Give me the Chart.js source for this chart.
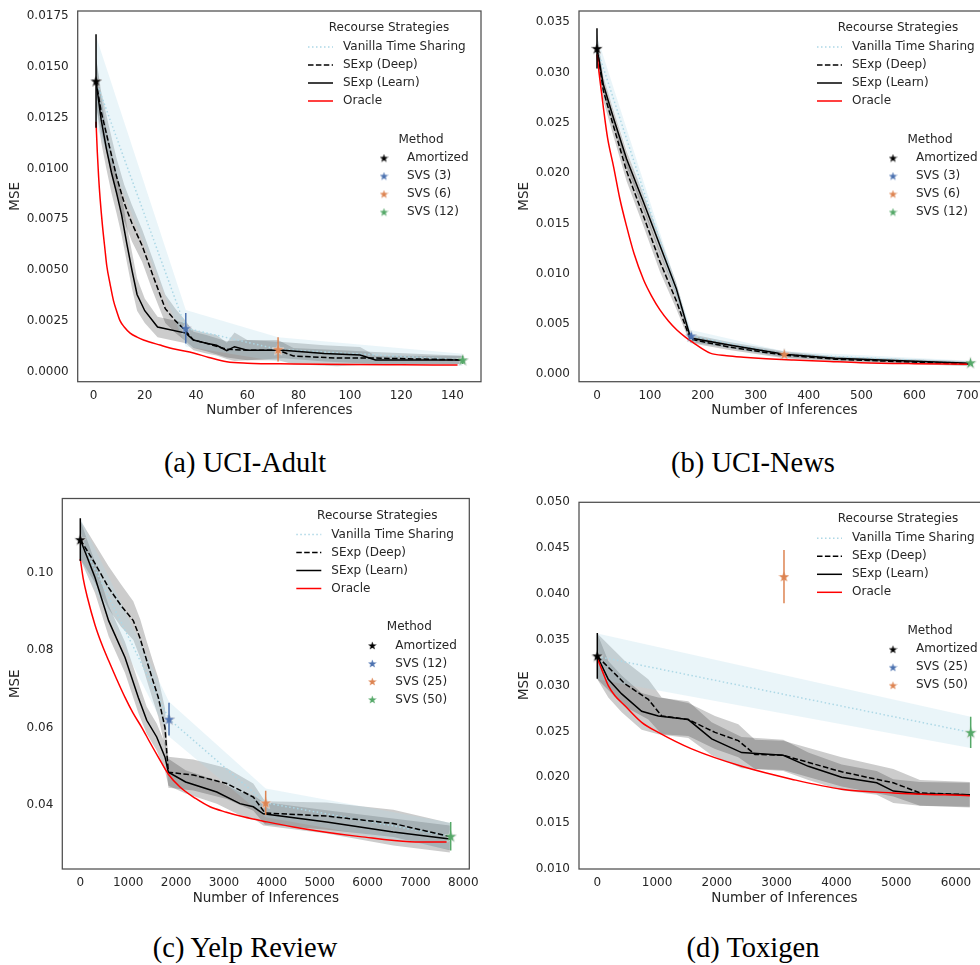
<!DOCTYPE html>
<html><head><meta charset="utf-8">
<script src="https://cdn.jsdelivr.net/npm/chart.js@4.4.1/dist/chart.umd.min.js"></script>
<style>
html,body{margin:0;padding:0;background:#fff;overflow:hidden;width:980px;height:965px;}
canvas{position:absolute;}
.cap{position:absolute;font-family:"Liberation Serif",serif;font-size:28.5px;color:#000;transform:translate(-50%,-50%);white-space:nowrap;}
</style></head><body>
<canvas id="cA" width="490" height="419" style="left:0px;top:0px"></canvas>
<canvas id="cB" width="500" height="419" style="left:500px;top:0px"></canvas>
<canvas id="cC" width="480" height="417" style="left:0px;top:490px"></canvas>
<canvas id="cD" width="500" height="417" style="left:500px;top:490px"></canvas>
<div class="cap" style="left:245px;top:463px">(a) UCI-Adult</div>
<div class="cap" style="left:753px;top:463px">(b) UCI-News</div>
<div class="cap" style="left:245px;top:948px">(c) Yelp Review</div>
<div class="cap" style="left:753px;top:948px">(d) Toxigen</div>
<script>
// ---------------- DATA ----------------
const STRAT_LABELS = ['Vanilla Time Sharing', 'SExp (Deep)', 'SExp (Learn)', 'Oracle'];
const STRAT_TITLE = 'Recourse Strategies';
const METHOD_TITLE = 'Method';
const X_TITLE = 'Number of Inferences';
const Y_TITLE = 'MSE';

// (a) UCI-Adult
const A_xTicks = [0, 20, 40, 60, 80, 100, 120, 140];
const A_yTicks = [0, 0.0025, 0.005, 0.0075, 0.01, 0.0125, 0.015, 0.0175];
const A_vanX = [1, 36, 72, 144];
const A_vanY = [0.0143, 0.00214, 0.0011, 0.00058];
const A_vanCI = [0.0022, 0.0009, 0.0006, 0.0003];
const A_deepX = [1, 3, 6, 9, 12, 15, 19, 23, 28, 32, 36, 39, 44, 52, 60, 72, 78, 95, 110, 144];
const A_deepY = [0.0143, 0.0128, 0.0112, 0.0096, 0.0083, 0.0073, 0.0062, 0.0048, 0.0031, 0.0025, 0.0020, 0.00156, 0.0014, 0.0011, 0.00106, 0.00106, 0.00077, 0.00067, 0.00067, 0.00058];
const A_deepCI = [0.0012, 0.0010, 0.0009, 0.0009, 0.0009, 0.0009, 0.0008, 0.0008, 0.0007, 0.0006, 0.0005, 0.0004, 0.0004, 0.0004, 0.0005, 0.0005, 0.0004, 0.0004, 0.0003, 0.0002];
const A_learnX = [1, 3, 5, 7, 9, 11, 13, 15, 17, 20, 25, 36, 39, 44, 48, 52, 55, 60, 74, 90, 104, 110, 125, 144];
const A_learnY = [0.0143, 0.0124, 0.0110, 0.0098, 0.0088, 0.0077, 0.0063, 0.0050, 0.0038, 0.0030, 0.0022, 0.0019, 0.00156, 0.0014, 0.0013, 0.00103, 0.00123, 0.00106, 0.00106, 0.0009, 0.00082, 0.00058, 0.00058, 0.00058];
const A_learnCI = [0.0012, 0.0011, 0.0010, 0.0010, 0.0010, 0.0010, 0.0009, 0.0009, 0.0008, 0.0006, 0.0005, 0.0005, 0.0005, 0.0005, 0.0005, 0.0004, 0.0007, 0.0005, 0.0004, 0.0004, 0.0004, 0.0002, 0.0002, 0.0002];
const A_oraX = [1, 1.5, 2, 2.6, 3.5, 4.5, 5.2, 6.5, 7.8, 9, 10.4, 12, 14.3, 17, 19.5, 26, 32, 39, 45, 52, 60, 78, 100, 120, 142];
const A_oraY = [0.0123, 0.0108, 0.0096, 0.0085, 0.0072, 0.0060, 0.0052, 0.0043, 0.0035, 0.0030, 0.0025, 0.0022, 0.0019, 0.0017, 0.00156, 0.00131, 0.0011, 0.00092, 0.0007, 0.00049, 0.00042, 0.00038, 0.00035, 0.00034, 0.00033];
const A_methods = ['Amortized', 'SVS (3)', 'SVS (6)', 'SVS (12)'];
const A_starX = [1, 36, 72, 144];
const A_starY = [0.0143, 0.00214, 0.0011, 0.00058];
const A_starErr = [0.0023, 0.00075, 0.0006, 0.0002];
const A_starColor = [0, 1, 2, 3];

// (b) UCI-News
const B_xTicks = [0, 100, 200, 300, 400, 500, 600, 700];
const B_yTicks = [0, 0.005, 0.01, 0.015, 0.02, 0.025, 0.03, 0.035];
const B_vanX = [0, 178, 354, 706];
const B_vanY = [0.0324, 0.0038, 0.0020, 0.00115];
const B_vanCI = [0.0012, 0.0006, 0.0003, 0.0002];
const B_deepX = [0, 12, 31, 56, 88, 119, 150, 176, 250, 354, 450, 550, 706];
const B_deepY = [0.0324, 0.0282, 0.0247, 0.0202, 0.0157, 0.0112, 0.0073, 0.0035, 0.0027, 0.0019, 0.0015, 0.0013, 0.0010];
const B_deepCI = [0.0015, 0.0010, 0.0010, 0.0010, 0.0010, 0.0010, 0.0008, 0.0004, 0.0003, 0.0003, 0.0002, 0.0002, 0.0002];
const B_learnX = [0, 12, 31, 56, 88, 119, 150, 177, 250, 354, 450, 550, 706];
const B_learnY = [0.0324, 0.0288, 0.0255, 0.0214, 0.0171, 0.0128, 0.0085, 0.0036, 0.0029, 0.0020, 0.0016, 0.0014, 0.0011];
const B_learnCI = [0.0015, 0.0008, 0.0008, 0.0008, 0.0008, 0.0008, 0.0006, 0.0004, 0.0003, 0.0003, 0.0002, 0.0002, 0.0002];
const B_oraX = [0, 5, 12.6, 20, 31.5, 43, 56, 70, 88, 103, 119, 135, 151, 167, 183, 200, 214, 245, 277, 320, 372, 430, 498, 600, 700];
const B_oraY = [0.0318, 0.0295, 0.0263, 0.0235, 0.0206, 0.0175, 0.0147, 0.0120, 0.0094, 0.0078, 0.0064, 0.0053, 0.0044, 0.0037, 0.0031, 0.0025, 0.0021, 0.00185, 0.0017, 0.00155, 0.00142, 0.0013, 0.00115, 0.00105, 0.0010];
const B_methods = ['Amortized', 'SVS (3)', 'SVS (6)', 'SVS (12)'];
const B_starX = [0, 178, 354, 706];
const B_starY = [0.0324, 0.0038, 0.0020, 0.00115];
const B_starErr = [0.002, 0.0003, 0.0002, 0.00012];
const B_starColor = [0, 1, 2, 3];

// (c) Yelp Review
const C_xTicks = [0, 1000, 2000, 3000, 4000, 5000, 6000, 7000, 8000];
const C_yTicks = [0.04, 0.06, 0.08, 0.10];
const C_vanX = [0, 1853, 3872, 7736];
const C_vanY = [0.1085, 0.0622, 0.0406, 0.0320];
const C_vanCI = [0.0055, 0.0045, 0.0037, 0.0035];
const C_deepX = [0, 300, 591, 850, 1107, 1250, 1387, 1520, 1629, 1769, 1810, 1840, 2360, 3057, 3614, 3857, 5145, 6537, 7720];
const C_deepY = [0.1085, 0.1025, 0.0961, 0.0915, 0.0876, 0.0830, 0.0773, 0.0720, 0.0678, 0.0600, 0.0530, 0.0485, 0.0478, 0.0456, 0.0421, 0.0380, 0.0372, 0.0353, 0.0319];
const C_deepCI = [0.005, 0.005, 0.0055, 0.0055, 0.005, 0.005, 0.005, 0.005, 0.005, 0.005, 0.0045, 0.004, 0.004, 0.004, 0.0035, 0.003, 0.0035, 0.0035, 0.0035];
const C_learnX = [0, 307, 591, 934, 1212, 1387, 1596, 1769, 1840, 2200, 2850, 3335, 3614, 3822, 5145, 6537, 7720];
const C_learnY = [0.1085, 0.0987, 0.0876, 0.0781, 0.0678, 0.0619, 0.0576, 0.0524, 0.0485, 0.0460, 0.0434, 0.0404, 0.0396, 0.0378, 0.0357, 0.0331, 0.0313];
const C_learnCI = [0.005, 0.004, 0.004, 0.004, 0.004, 0.0035, 0.0035, 0.0035, 0.0035, 0.003, 0.003, 0.003, 0.003, 0.003, 0.003, 0.0035, 0.0035];
const C_oraX = [0, 60, 150, 307, 450, 591, 760, 934, 1100, 1282, 1450, 1629, 1840, 2082, 2400, 2709, 3050, 3405, 3900, 4450, 5100, 5842, 6886, 7650];
const C_oraY = [0.1035, 0.0985, 0.0935, 0.0865, 0.0815, 0.0773, 0.0725, 0.0678, 0.0638, 0.0601, 0.0563, 0.0524, 0.0480, 0.0447, 0.0418, 0.0396, 0.0382, 0.0370, 0.0357, 0.0344, 0.0331, 0.0319, 0.0306, 0.0305];
const C_methods = ['Amortized', 'SVS (12)', 'SVS (25)', 'SVS (50)'];
const C_starX = [0, 1853, 3872, 7736];
const C_starY = [0.1085, 0.0622, 0.0406, 0.0320];
const C_starErr = [0.0055, 0.0042, 0.0031, 0.0037];
const C_starColor = [0, 1, 2, 3];

// (d) Toxigen
const D_xTicks = [0, 1000, 2000, 3000, 4000, 5000, 6000];
const D_yTicks = [0.01, 0.015, 0.02, 0.025, 0.03, 0.035, 0.04, 0.045, 0.05];
const D_vanX = [0, 6246];
const D_vanY = [0.0332, 0.0249];
const D_vanCI = [0.0025, 0.0017];
const D_deepX = [0, 463, 853, 1077, 1522, 1969, 2359, 2638, 3111, 4088, 4952, 5398, 6233];
const D_deepY = [0.0332, 0.0302, 0.0285, 0.0267, 0.0263, 0.0249, 0.0240, 0.0225, 0.0224, 0.0206, 0.0194, 0.0183, 0.0181];
const D_deepCI = [0.0025, 0.0025, 0.0022, 0.002, 0.0018, 0.0018, 0.0018, 0.0016, 0.0016, 0.0016, 0.0015, 0.0014, 0.0014];
const D_learnX = [0, 184, 408, 742, 1020, 1522, 1913, 2415, 3111, 3530, 4088, 4674, 4952, 5398, 6233];
const D_learnY = [0.0332, 0.0307, 0.0291, 0.0272, 0.0267, 0.0263, 0.0242, 0.0227, 0.0224, 0.0212, 0.0200, 0.0194, 0.0185, 0.0182, 0.0181];
const D_learnCI = [0.0025, 0.002, 0.002, 0.002, 0.002, 0.002, 0.0018, 0.0017, 0.0017, 0.0015, 0.0014, 0.0013, 0.0013, 0.0013, 0.0013];
const D_oraX = [0, 90, 184, 296, 463, 742, 1020, 1578, 2415, 3250, 4088, 4952, 6233];
const D_oraY = [0.0330, 0.0315, 0.0300, 0.0289, 0.0278, 0.0260, 0.0249, 0.0231, 0.0212, 0.0198, 0.0187, 0.0183, 0.0180];
const D_methods = ['Amortized', 'SVS (25)', 'SVS (50)'];
const D_starX = [0, 3123, 6246];
const D_starY = [0.03325, 0.0419, 0.0249];
const D_starErr = [0.0025, 0.0029, 0.0017];
const D_starColor = [0, 2, 3];

// ---------------- STYLE / LAYOUT ----------------
const PALETTE = ['#000000', '#4c72b0', '#dd8452', '#55a868'];
const TXT = '#262626';
Chart.defaults.font.family = '"DejaVu Sans", sans-serif';
Chart.defaults.font.size = 12;
Chart.defaults.color = TXT;
const TITLE_FONT = {family: '"DejaVu Sans", sans-serif', size: 13.5};

function starImg(size, fill, stroke, lw) {
  const c = document.createElement('canvas');
  c.width = size; c.height = size;
  const g = c.getContext('2d');
  const m = lw || 0;
  const r = size / 2 - m;
  const cx = size / 2, cy = size / 2 + r * 0.1;
  g.beginPath();
  for (let i = 0; i < 10; i++) {
    const rr = i % 2 ? r * 0.4 : r;
    const a = -Math.PI / 2 + i * Math.PI / 5;
    g.lineTo(cx + rr * Math.cos(a), cy + rr * Math.sin(a));
  }
  g.closePath();
  g.fillStyle = fill; g.fill();
  if (stroke) { g.strokeStyle = stroke; g.lineWidth = lw; g.stroke(); }
  return c;
}
const WHITE_STAR = starImg(14, '#ffffff', '#d9d9d9', 0.8);
const PLOT_STARS = PALETTE.map(c => starImg(11, c));
const LEG_STARS = PALETTE.map(c => starImg(9, c));

const STRAT_STYLE = [
  {color: '#add8e6', dash: [1.5, 2.5]},
  {color: '#000000', dash: [5.5, 2.4]},
  {color: '#000000', dash: []},
  {color: '#ff0000', dash: []}
];

const panels = [
  {id: 'cA', xr: [-6.15, 151.15], yr: [-0.000492, 0.017746], xTicks: A_xTicks, yTicks: A_yTicks, dec: 4,
   yW: 77.7, xH: 37.3, pad: {top: 11, right: 9, left: 0, bottom: 0}, yTP: 6.9, xTP: 0.2,
   van: [A_vanX, A_vanY, A_vanCI], deep: [A_deepX, A_deepY, A_deepCI], learn: [A_learnX, A_learnY, A_learnCI],
   ora: [A_oraX, A_oraY], methods: A_methods, sx: A_starX, sy: A_starY, se: A_starErr, sc: A_starColor},
  {id: 'cB', xr: [-34.0, 742.9], yr: [-0.00074, 0.03612], xTicks: B_xTicks, yTicks: B_yTicks, dec: 3,
   yW: 79, xH: 37.3, pad: {top: 11, right: 10, left: 0, bottom: 0}, yTP: 15.9, xTP: 0.2,
   van: [B_vanX, B_vanY, B_vanCI], deep: [B_deepX, B_deepY, B_deepCI], learn: [B_learnX, B_learnY, B_learnCI],
   ora: [B_oraX, B_oraY], methods: B_methods, sx: B_starX, sy: B_starY, se: B_starErr, sc: B_starColor},
  {id: 'cC', xr: [-376, 8125], yr: [0.02355, 0.1191], xTicks: C_xTicks, yTicks: C_yTicks, dec: 2,
   yW: 62.3, xH: 38, pad: {top: 7.3, right: 10.7, left: 0, bottom: 0}, yTP: 6.9, xTP: 0.9,
   van: [C_vanX, C_vanY, C_vanCI], deep: [C_deepX, C_deepY, C_deepCI], learn: [C_learnX, C_learnY, C_learnCI],
   ora: [C_oraX, C_oraY], methods: C_methods, sx: C_starX, sy: C_starY, se: C_starErr, sc: C_starColor},
  {id: 'cD', xr: [-306, 6569], yr: [0.01, 0.05], xTicks: D_xTicks, yTicks: D_yTicks, dec: 3,
   yW: 79, xH: 38, pad: {top: 12.3, right: 10, left: 0, bottom: 0}, yTP: 15.9, xTP: 0.9,
   van: [D_vanX, D_vanY, D_vanCI], deep: [D_deepX, D_deepY, D_deepCI], learn: [D_learnX, D_learnY, D_learnCI],
   ora: [D_oraX, D_oraY], methods: D_methods, sx: D_starX, sy: D_starY, se: D_starErr, sc: D_starColor}
];

const pts = (xs, ys) => xs.map((x, i) => ({x, y: ys[i]}));

function datasets(p) {
  const ds = [];
  const band = (s, color) => {
    const [xs, ys, ci] = s;
    ds.push({data: xs.map((x, i) => ({x, y: ys[i] + ci[i]})), borderWidth: 0, pointRadius: 0, fill: false, order: 10, tension: 0});
    ds.push({data: xs.map((x, i) => ({x, y: ys[i] - ci[i]})), borderWidth: 0, pointRadius: 0, fill: '-1', backgroundColor: color, order: 10, tension: 0});
  };
  band(p.van, 'rgba(173,216,230,0.25)');
  band(p.deep, 'rgba(0,0,0,0.2)');
  band(p.learn, 'rgba(0,0,0,0.2)');
  ds.push({data: pts(p.van[0], p.van[1]), borderColor: STRAT_STYLE[0].color, borderDash: STRAT_STYLE[0].dash, borderWidth: 1.5,
           pointStyle: WHITE_STAR, pointRadius: 7, fill: false, order: 7, tension: 0});
  ds.push({data: pts(p.deep[0], p.deep[1]), borderColor: '#000', borderDash: STRAT_STYLE[1].dash, borderWidth: 1.5, pointRadius: 0, fill: false, order: 5, tension: 0});
  ds.push({data: pts(p.learn[0], p.learn[1]), borderColor: '#000', borderWidth: 1.5, pointRadius: 0, fill: false, order: 5, tension: 0});
  ds.push({data: pts(p.ora[0], p.ora[1]), borderColor: '#ff0000', borderWidth: 1.5, pointRadius: 0, fill: false, order: 4, cubicInterpolationMode: 'monotone'});
  p.sx.forEach((x, i) => {
    const col = PALETTE[p.sc[i]];
    ds.push({data: [{x, y: p.sy[i] - p.se[i]}, {x, y: p.sy[i] + p.se[i]}], borderColor: col, borderWidth: 1.5, pointRadius: 0, fill: false, order: 2});
    ds.push({data: [{x, y: p.sy[i]}], showLine: false, pointStyle: PLOT_STARS[p.sc[i]], pointRadius: 6, order: 1});
  });
  return ds;
}

function decor(p) {
  return {
    id: 'decor',
    afterDraw(chart) {
      const ctx = chart.ctx, a = chart.chartArea;
      ctx.save();
      ctx.strokeStyle = '#4d4d4d'; ctx.lineWidth = 1.25; ctx.setLineDash([]);
      ctx.strokeRect(a.left, a.top, a.right - a.left, a.bottom - a.top);
      const R = a.right, T = a.top;
      ctx.font = '12px "DejaVu Sans"';
      ctx.fillStyle = TXT; ctx.textBaseline = 'middle';
      ctx.textAlign = 'center';
      ctx.fillText(STRAT_TITLE, R - 92, T + 17);
      STRAT_LABELS.forEach((lab, k) => {
        const y = T + 36 + 18 * k;
        ctx.beginPath();
        ctx.strokeStyle = STRAT_STYLE[k].color; ctx.lineWidth = 1.5; ctx.setLineDash(STRAT_STYLE[k].dash);
        ctx.moveTo(R - 173, y); ctx.lineTo(R - 148, y); ctx.stroke();
        ctx.setLineDash([]);
        ctx.textAlign = 'left'; ctx.fillStyle = TXT;
        ctx.fillText(lab, R - 138, y);
      });
      ctx.textAlign = 'center';
      ctx.fillText(METHOD_TITLE, R - 60, T + 128.5);
      p.methods.forEach((lab, k) => {
        const y = T + 147 + 18 * k;
        const img = LEG_STARS[k];
        ctx.drawImage(img, R - 97 - img.width / 2, y - img.height / 2);
        ctx.textAlign = 'left';
        ctx.fillText(lab, R - 74, y);
      });
      ctx.restore();
    }
  };
}

panels.forEach(p => {
  new Chart(document.getElementById(p.id), {
    type: 'line',
    data: {datasets: datasets(p)},
    options: {
      responsive: false, animation: false, devicePixelRatio: 1,
      layout: {padding: p.pad},
      plugins: {legend: {display: false}, tooltip: {enabled: false}},
      scales: {
        x: {
          type: 'linear', min: p.xr[0], max: p.xr[1],
          grid: {display: false, drawTicks: false}, border: {display: false},
          ticks: {autoSkip: false, maxRotation: 0, padding: 7, color: TXT, callback: v => String(v)},
          afterBuildTicks: s => { s.ticks = p.xTicks.map(v => ({value: v})); },
          afterFit: s => { s.height = p.xH; s.paddingLeft = 0; s.paddingRight = 0; s.paddingTop = 0; s.paddingBottom = 0; },
          title: {display: true, text: X_TITLE, color: TXT, font: TITLE_FONT, padding: {top: 0, bottom: p.xTP}}
        },
        y: {
          type: 'linear', min: p.yr[0], max: p.yr[1],
          grid: {display: false, drawTicks: false}, border: {display: false},
          ticks: {autoSkip: false, padding: 9, color: TXT, callback: v => Number(v).toFixed(p.dec)},
          afterBuildTicks: s => { s.ticks = p.yTicks.map(v => ({value: v})); },
          afterFit: s => { s.width = p.yW; s.paddingLeft = 0; s.paddingRight = 0; s.paddingTop = 0; s.paddingBottom = 0; },
          title: {display: true, text: Y_TITLE, color: TXT, font: TITLE_FONT, padding: {top: p.yTP, bottom: 0}}
        }
      }
    },
    plugins: [decor(p)]
  });
});
</script>
</body></html>
